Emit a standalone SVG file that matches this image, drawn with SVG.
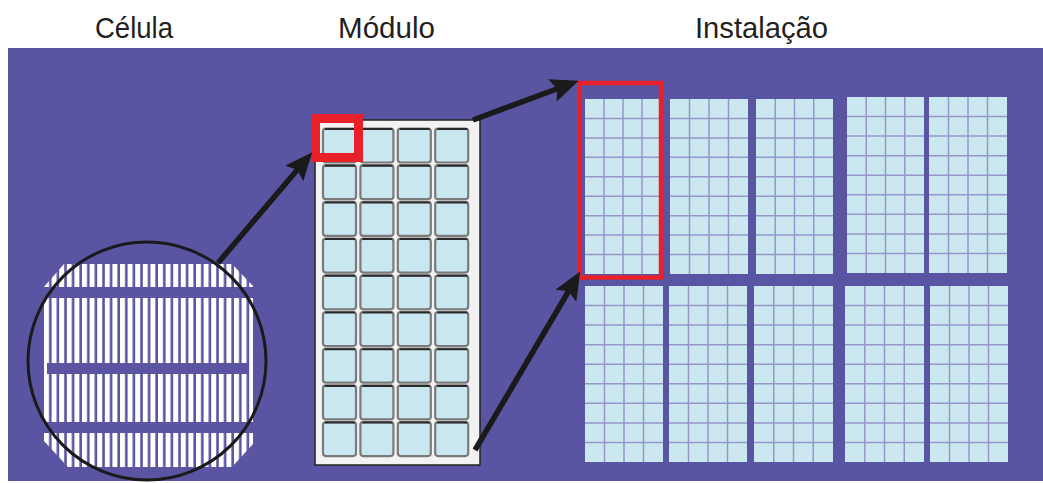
<svg xmlns="http://www.w3.org/2000/svg" xmlns:xlink="http://www.w3.org/1999/xlink" width="1043" height="483" viewBox="0 0 1043 483">
  <style>
    .lbl { font-family: "Liberation Sans", Arial, sans-serif; font-size: 30px; fill: #231f20; }
    .panel { fill: #cbe8f1; }
    .grid { fill: none; stroke: #9796cc; stroke-width: 1.5; }
    .mcell { fill: #c9e7f0; stroke: #7a7a7a; stroke-width: 2.2; }
    .mtop { fill: none; stroke: #2a2a2a; stroke-width: 2; }
    .red { fill: none; stroke: #e8202a; }
    .arrow { stroke: #1a1a1a; stroke-width: 5.5; fill: none; marker-end: url(#head); }
    .band { fill: #5a55a2; }
  </style>
  <defs>
    <marker id="head" markerUnits="userSpaceOnUse" markerWidth="28" markerHeight="24" viewBox="0 0 28 24" refX="6" refY="12" orient="auto">
      <path d="M0,0 L28,12 L0,24 L5,12 z" fill="#1a1a1a"/>
    </marker>
    <pattern id="stripes" patternUnits="userSpaceOnUse" x="44" y="0" width="7.6" height="10">
      <rect x="0" y="0" width="5" height="10" fill="#ffffff"/>
    </pattern>
    <g id="mrow">
      <rect class="mcell" x="323" y="0" width="33" height="34" rx="3"/>
      <rect class="mcell" x="360.4" y="0" width="33" height="34" rx="3"/>
      <rect class="mcell" x="397.8" y="0" width="33" height="34" rx="3"/>
      <rect class="mcell" x="435.2" y="0" width="33" height="34" rx="3"/>
      <path class="mtop" d="M325,0.5H355 M362.4,0.5H392.4 M399.8,0.5H429.8 M437.2,0.5H467.2"/>
    </g>
  </defs>

  <rect id="background" x="8" y="48" width="1035" height="433" fill="#5a55a2"/>

  <g id="labels">
    <text class="lbl" x="95" y="38" textLength="78" lengthAdjust="spacingAndGlyphs">Célula</text>
    <text class="lbl" x="338" y="38" textLength="97" lengthAdjust="spacingAndGlyphs">Módulo</text>
    <text class="lbl" x="695" y="38" textLength="133" lengthAdjust="spacingAndGlyphs">Instalação</text>
  </g>

  <g id="celula">
    <polygon points="64,264 232,264 253,286 253,444 232,467 68,467 43,440 43,288" fill="url(#stripes)"/>
    <rect class="band" x="40" y="287" width="216" height="11"/>
    <rect class="band" x="47" y="363" width="202" height="11"/>
    <rect class="band" x="40" y="422" width="216" height="11"/>
    <circle cx="147" cy="361" r="119" fill="none" stroke="#1a1a1a" stroke-width="3"/>
  </g>

  <g id="modulo">
    <rect x="315" y="120" width="165" height="345" fill="#f2f2f2" stroke="#222" stroke-width="1.5"/>
    <use xlink:href="#mrow" y="128.5"/>
    <use xlink:href="#mrow" y="165.2"/>
    <use xlink:href="#mrow" y="201.9"/>
    <use xlink:href="#mrow" y="238.6"/>
    <use xlink:href="#mrow" y="275.3"/>
    <use xlink:href="#mrow" y="312"/>
    <use xlink:href="#mrow" y="348.7"/>
    <use xlink:href="#mrow" y="385.4"/>
    <use xlink:href="#mrow" y="422.1"/>
    <rect class="red" x="315.5" y="118.5" width="43" height="39" stroke-width="9"/>
  </g>

  <g id="instalacao">
    <g id="painel-1">
      <rect class="panel" x="585" y="99" width="76" height="175"/>
      <path class="grid" d="M604,99V274M623,99V274M642,99V274M585,118.4H661M585,137.9H661M585,157.3H661M585,176.8H661M585,196.2H661M585,215.7H661M585,235.1H661M585,254.6H661"/>
    </g>
    <g id="painel-2">
      <rect class="panel" x="670" y="99" width="78" height="175"/>
      <path class="grid" d="M689.5,99V274M709,99V274M728.5,99V274M670,118.4H748M670,137.9H748M670,157.3H748M670,176.8H748M670,196.2H748M670,215.7H748M670,235.1H748M670,254.6H748"/>
    </g>
    <g id="painel-3">
      <rect class="panel" x="756" y="99" width="77" height="175"/>
      <path class="grid" d="M775.25,99V274M794.5,99V274M813.75,99V274M756,118.4H833M756,137.9H833M756,157.3H833M756,176.8H833M756,196.2H833M756,215.7H833M756,235.1H833M756,254.6H833"/>
    </g>
    <g id="painel-4">
      <rect class="panel" x="847" y="97" width="77" height="176"/>
      <path class="grid" d="M866.25,97V273M885.5,97V273M904.75,97V273M847,116.6H924M847,136.1H924M847,155.7H924M847,175.2H924M847,194.8H924M847,214.3H924M847,233.9H924M847,253.4H924"/>
    </g>
    <g id="painel-5">
      <rect class="panel" x="929" y="97" width="78" height="176"/>
      <path class="grid" d="M948.5,97V273M968,97V273M987.5,97V273M929,116.6H1007M929,136.1H1007M929,155.7H1007M929,175.2H1007M929,194.8H1007M929,214.3H1007M929,233.9H1007M929,253.4H1007"/>
    </g>
    <g id="painel-6">
      <rect class="panel" x="585" y="286" width="78" height="176"/>
      <path class="grid" d="M604.5,286V462M624,286V462M643.5,286V462M585,305.6H663M585,325.1H663M585,344.7H663M585,364.2H663M585,383.8H663M585,403.3H663M585,422.9H663M585,442.4H663"/>
    </g>
    <g id="painel-7">
      <rect class="panel" x="669" y="286" width="78" height="176"/>
      <path class="grid" d="M688.5,286V462M708,286V462M727.5,286V462M669,305.6H747M669,325.1H747M669,344.7H747M669,364.2H747M669,383.8H747M669,403.3H747M669,422.9H747M669,442.4H747"/>
    </g>
    <g id="painel-8">
      <rect class="panel" x="754" y="286" width="79" height="176"/>
      <path class="grid" d="M773.75,286V462M793.5,286V462M813.25,286V462M754,305.6H833M754,325.1H833M754,344.7H833M754,364.2H833M754,383.8H833M754,403.3H833M754,422.9H833M754,442.4H833"/>
    </g>
    <g id="painel-9">
      <rect class="panel" x="845" y="286" width="79" height="176"/>
      <path class="grid" d="M864.75,286V462M884.5,286V462M904.25,286V462M845,305.6H924M845,325.1H924M845,344.7H924M845,364.2H924M845,383.8H924M845,403.3H924M845,422.9H924M845,442.4H924"/>
    </g>
    <g id="painel-10">
      <rect class="panel" x="930" y="286" width="78" height="176"/>
      <path class="grid" d="M949.5,286V462M969,286V462M988.5,286V462M930,305.6H1008M930,325.1H1008M930,344.7H1008M930,364.2H1008M930,383.8H1008M930,403.3H1008M930,422.9H1008M930,442.4H1008"/>
    </g>
    <rect class="red" x="579.5" y="83" width="81.5" height="194.5" stroke-width="4.5"/>
  </g>

  <g id="connectors">
    <line class="arrow" x1="218" y1="263" x2="298" y2="169"/>
    <line class="arrow" x1="473" y1="120" x2="558" y2="88.5"/>
    <line class="arrow" x1="475" y1="450" x2="569" y2="290.5"/>
  </g>
</svg>
